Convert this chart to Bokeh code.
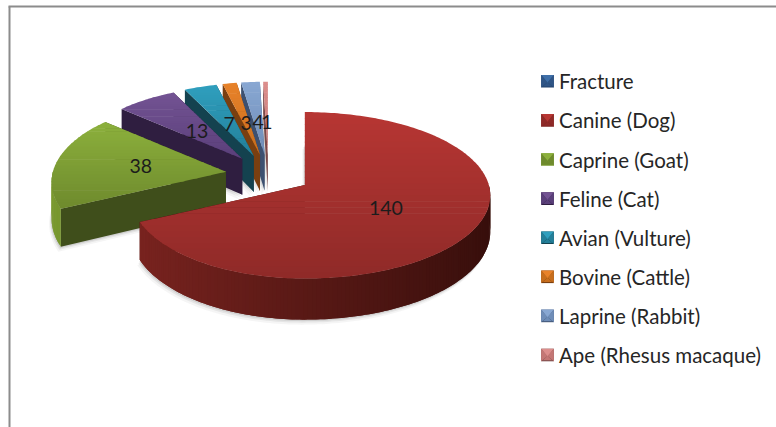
import math
from bokeh.plotting import figure
from bokeh.models import Range1d, ColumnDataSource
from bokeh.core.properties import value
from bokeh.embed import file_html
from bokeh.resources import INLINE

categories = ["Fracture", "Canine (Dog)", "Caprine (Goat)", "Feline (Cat)", "Avian (Vulture)",
              "Bovine (Cattle)", "Laprine (Rabbit)", "Ape (Rhesus macaque)"]
counts = [0, 140, 38, 13, 7, 3, 4, 1]
top_light = ["#3f6fa8", "#b73633", "#8cb03c", "#735393", "#2f9fbe", "#e8822a", "#88a7d2", "#dc8e8c"]
top_dark = ["#2f5586", "#8f2a28", "#6e8a2d", "#5a3f7a", "#237f99", "#c76e1d", "#6f8db8", "#c47775"]
wall_light = ["#22406a", "#7c2420", "#7a9a30", "#2f1e40", "#14424f", "#7a3f10", "#3d5070", "#7a4a4a"]
wall_dark = ["#1a3050", "#360e0b", "#404f1c", "#2f1e40", "#14424f", "#6a360d", "#3d5070", "#7a4a4a"]
wedge_wall = ["#1a3050", "#3c100d", "#3f4e1b", "#2f1e40", "#14424f", "#7a3f10", "#3d5070", "#7a4a4a"]

CX, CY, R_LEFT, R_RIGHT, RY, EXPL, RATIO, K, DEPTH = 268, 174, 173, 184, 82, 43, 0.46, 0.123, 36


def mix(a, b, t):
    ca = [int(a[i:i + 2], 16) for i in (1, 3, 5)]
    cb = [int(b[i:i + 2], 16) for i in (1, 3, 5)]
    return "#%02x%02x%02x" % tuple(round(x + (y - x) * t) for x, y in zip(ca, cb))


def clip(poly, y0, y1):
    def cut(pts, lim, keep_above):
        out = []
        for i in range(len(pts)):
            a, b = pts[i], pts[(i + 1) % len(pts)]
            ina = a[1] >= lim if keep_above else a[1] <= lim
            inb = b[1] >= lim if keep_above else b[1] <= lim
            if ina:
                out.append(a)
            if ina != inb:
                t = (lim - a[1]) / (b[1] - a[1])
                out.append((a[0] + (b[0] - a[0]) * t, lim))
        return out
    p1 = cut(poly, y0, True)
    return cut(p1, y1, False) if p1 else []


xs, ys, fills, alphas = [], [], [], []


def add(poly, color, alpha=1.0):
    if len(poly) < 3:
        return
    xs.append([q[0] for q in poly])
    ys.append([q[1] for q in poly])
    fills.append(color)
    alphas.append(alpha)


total = sum(counts)
slices = []
cum = 0
for i, c in enumerate(counts):
    if c > 0:
        slices.append((i, cum / total * 2 * math.pi, (cum + c) / total * 2 * math.pi))
    cum += c

label_x, label_y, label_t = [], [], []
for i, a0, a1 in reversed(slices):
    mid = (a0 + a1) / 2
    ax = CX + EXPL * math.sin(mid)
    ay = CY - EXPL * RATIO * math.cos(mid)

    def pt(a, f=1.0):
        u, v = math.sin(a) * f, -math.cos(a) * f
        s = 1 / (1 - K * v)
        return (ax + (R_RIGHT if u > 0 else R_LEFT) * u * s, ay + RY * v * s, s)

    n = max(4, int((a1 - a0) / 0.02))
    arc = [pt(a0 + (a1 - a0) * j / n) for j in range(n + 1)]
    arc_a = [a0 + (a1 - a0) * j / n for j in range(n + 1)]
    top = [(ax, ay)] + [(q[0], q[1]) for q in arc]
    bottom = [(ax, ay + DEPTH)] + [(q[0], q[1] + DEPTH * q[2]) for q in arc]

    # soft shadow under the slice
    for k, al in ((5, 0.07), (3, 0.12), (1.5, 0.18)):
        add([(x - 0.5 * k, y + k) for x, y in bottom], "#777777", al)

    # radial walls
    for q in (arc[-1], arc[0]):
        add([(ax, ay), (q[0], q[1]), (q[0], q[1] + DEPTH * q[2]), (ax, ay + DEPTH)], wedge_wall[i])

    # outer wall, only where it faces the viewer; each step overlaps the next so no seams show
    for j in range(n):
        am = (arc_a[j] + arc_a[j + 1]) / 2
        if math.cos(am) < 0:
            t = (1 - math.sin(am)) / 2
            shade = mix(wall_dark[i], wall_light[i], t)
            run = [arc[m] for m in range(j, min(j + 3, n + 1))]
            add([(q[0], q[1]) for q in run] + [(q[0], q[1] + DEPTH * q[2]) for q in reversed(run)], shade)

    # top surface, as horizontal gradient bands
    y_min = min(y for _, y in top)
    y_max = max(y for _, y in top)
    bands = 28
    for b in range(bands):
        y0 = y_min + (y_max - y_min) * b / bands
        y1 = y_min + (y_max - y_min) * (b + 1) / bands + 0.6
        add(clip(top, y0, y1), mix(top_light[i], top_dark[i], (b + 0.5) / bands))

    f = 0.42 + 0.07 * min(a1 - a0, 1.2)
    q = pt(mid, f)
    label_x.append(q[0])
    label_y.append(q[1])
    label_t.append(str(counts[i]))

# legend
leg_x, leg_y = 547, 80.8
step = 39.1
leg_tx, leg_ty = [], []
for i, name in enumerate(categories):
    y = leg_y + step * i
    h = 6.3
    x = leg_x
    add([(x - h, y - h), (x + h, y - h), (x + h, y + h), (x - h, y + h)], wall_light[i])
    add([(x - h, y - h), (x + h, y - h), (x, y + 2)], top_light[i])
    add([(x - h + 1.5, y + h - 1), (x + h - 1.5, y + h - 1), (x, y + 1)], top_dark[i])
    add([(x - h, y - h), (x, y + 1), (x - h, y + h)], top_dark[i])
    add([(x + h, y - h), (x, y + 1), (x + h, y + h)], top_dark[i])
    leg_tx.append(558.5)
    leg_ty.append(y)

p = figure(width=776, height=427, output_backend="svg", toolbar_location=None,
           x_range=Range1d(0, 776), y_range=Range1d(427, 0),
           x_axis_type=None, y_axis_type=None, min_border=0, outline_line_color=None,
           background_fill_color="#ffffff", border_fill_color="#ffffff")
p.grid.visible = False

p.patches(xs="x", ys="y", fill_color="c", fill_alpha="a", line_color=None,
          source=ColumnDataSource(dict(x=xs, y=ys, c=fills, a=alphas)))

p.line([9, 9], [6, 427], line_color="#8c8c8c", line_width=2)
p.line([8, 776], [6, 6], line_color="#8c8c8c", line_width=2)

p.text(x=label_x, y=label_y, text=label_t, text_font=value("Lato"), text_font_size="19.5px",
       text_color="#1c1c1c", text_align="center", text_baseline="middle")
p.text(x=leg_tx, y=leg_ty, text=categories, text_font=value("Lato"), text_font_size="20.5px",
       text_color="#262626", text_align="left", text_baseline="middle")

open("out.html", "w").write(file_html(p, INLINE))
